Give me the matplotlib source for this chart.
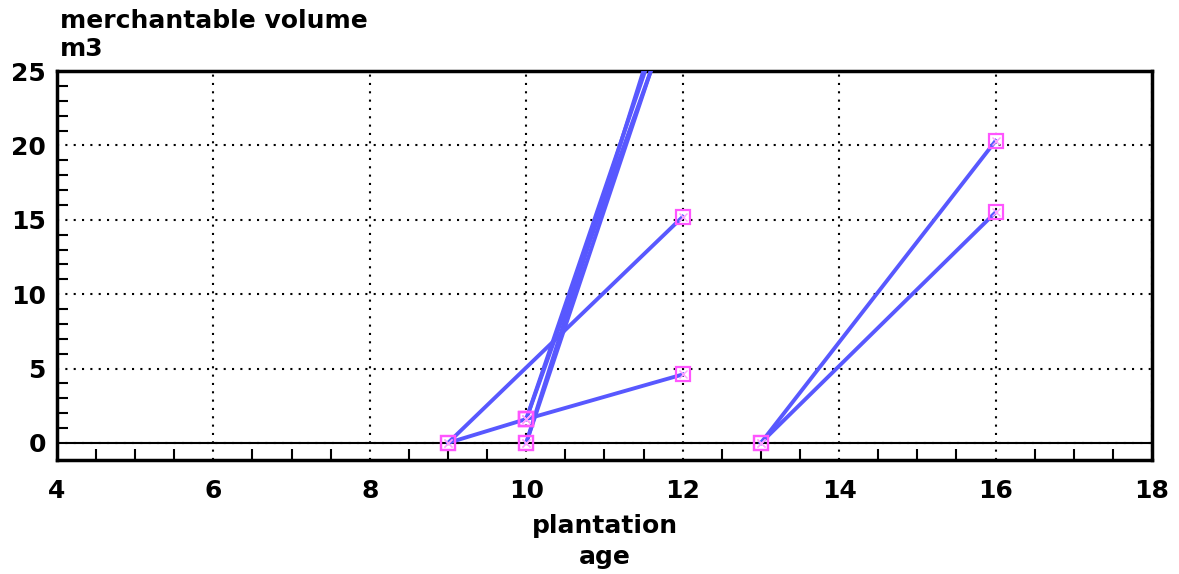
import matplotlib
matplotlib.use('Agg')
import matplotlib.pyplot as plt
from matplotlib.ticker import FixedLocator

# each growth segment: (age, volume) at start and end
start_age = [9, 9, 10, 13, 13, 10, 10, 10, 10]
start_vol = [0, 0, 1.6, 0, 0, 0, 0, 1.6, 1.6]
end_age = [12, 10, 12, 16, 16, 12, 12, 12, 12]
end_vol = [15.2, 1.6, 4.6, 20.3, 15.5, 31.4, 33.4, 31.0, 32.4]

x_ticks = [4, 6, 8, 10, 12, 14, 16, 18]
y_ticks = [0, 5, 10, 15, 20, 25]

LINE = '#5858ff'
MARK = '#ff55ff'
BOLD = dict(family='DejaVu Sans', weight='bold')

fig = plt.figure(figsize=(11.79, 5.74), dpi=100)
ax = fig.add_axes([0.0483, 0.1986, 0.9288, 0.6777])

for x0, y0, x1, y1 in zip(start_age, start_vol, end_age, end_vol):
    ax.plot([x0, x1], [y0, y1], color=LINE, lw=2.8, zorder=3)
    ax.plot([x0, x1], [y0, y1], ls='none', marker='s', ms=10, mfc='none',
            mec=MARK, mew=1.6, zorder=4)
    ax.plot([x0, x1], [y0, y1], ls='none', marker='x', ms=6, mec='#ffa0ff',
            mew=1, zorder=4)

ax.axhline(0, color='black', lw=1.5, zorder=2)

ax.set_xlim(4, 18)
ax.set_ylim(-1.15, 25)
ax.set_xticks(x_ticks)
ax.set_yticks(y_ticks)
# minor ticks everywhere except on the dotted gridlines
ax.xaxis.set_minor_locator(FixedLocator([v / 2 for v in range(8, 37) if v % 4 != 0]))
ax.yaxis.set_minor_locator(FixedLocator([v for v in range(0, 26) if v % 5 != 0]))
ax.tick_params(which='major', length=0, labelsize=18)
ax.tick_params(axis='x', which='major', pad=14)
ax.tick_params(axis='y', which='major', pad=8)
ax.tick_params(which='minor', direction='in', length=8, width=1.5)
for lab in ax.get_xticklabels() + ax.get_yticklabels():
    lab.set_fontweight('bold')

ax.grid(True, which='major', color='black', ls=(0, (1, 3)), lw=1.5)
for s in ax.spines.values():
    s.set_linewidth(2.5)

fig.text(0.051, 0.985, 'merchantable volume', ha='left', va='top', fontsize=18, **BOLD)
fig.text(0.051, 0.935, 'm3', ha='left', va='top', fontsize=18, **BOLD)
fig.text(0.513, 0.105, 'plantation', ha='center', va='top', fontsize=18, **BOLD)
fig.text(0.513, 0.05, 'age', ha='center', va='top', fontsize=18, **BOLD)

fig.savefig('out.png', dpi=100)
